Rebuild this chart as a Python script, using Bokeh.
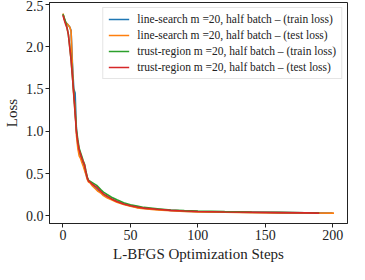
from bokeh.plotting import figure
from bokeh.embed import file_html
from bokeh.resources import INLINE
from bokeh.models import Legend, LegendItem, FixedTicker, Range1d, CustomJSTickFormatter

# --- data ---
ls_train_x = [0, 1, 2, 3, 4, 5, 6, 7, 8, 9, 10, 11, 12, 13, 14, 15, 16, 17, 18, 19, 20, 22, 24, 26, 28, 30, 33, 36, 40, 45, 50, 55, 60, 70, 80, 90, 100, 120, 140, 160, 180, 200]
ls_train_y = [2.38, 2.33, 2.28, 2.27, 2.25, 2.23, 2.19, 1.80, 1.50, 1.45, 1.00, 0.84, 0.74, 0.71, 0.66, 0.61, 0.56, 0.50, 0.44, 0.41, 0.40, 0.37, 0.33, 0.30, 0.28, 0.25, 0.22, 0.20, 0.17, 0.14, 0.12, 0.10, 0.09, 0.075, 0.065, 0.056, 0.05, 0.045, 0.041, 0.038, 0.035, 0.033]

ls_test_x = [0, 1, 2, 3, 4, 5, 6, 7, 8, 9, 10, 11, 12, 13, 14, 15, 16, 17, 18, 19, 20, 22, 24, 26, 28, 30, 33, 36, 40, 45, 50, 55, 60, 70, 80, 90, 100, 120, 140, 160, 180, 201]
ls_test_y = [2.39, 2.33, 2.28, 2.27, 2.25, 2.23, 2.18, 1.75, 1.42, 1.28, 0.95, 0.80, 0.71, 0.68, 0.63, 0.59, 0.54, 0.49, 0.43, 0.40, 0.39, 0.35, 0.32, 0.29, 0.27, 0.24, 0.21, 0.19, 0.16, 0.135, 0.115, 0.095, 0.085, 0.07, 0.06, 0.052, 0.047, 0.042, 0.038, 0.036, 0.034, 0.033]

tr_train_x = [0, 1, 2, 3, 4, 5, 6, 7, 8, 9, 10, 11, 12, 13, 14, 15, 16, 17, 18, 19, 20, 22, 25, 28, 30, 33, 36, 40, 45, 50, 55, 60, 70, 80, 90, 100, 120, 140, 160, 180, 190]
tr_train_y = [2.38, 2.33, 2.29, 2.22, 2.14, 2.00, 1.85, 1.65, 1.45, 1.22, 1.02, 0.90, 0.80, 0.75, 0.70, 0.65, 0.61, 0.53, 0.46, 0.42, 0.41, 0.39, 0.36, 0.31, 0.28, 0.25, 0.22, 0.19, 0.155, 0.13, 0.115, 0.10, 0.085, 0.07, 0.062, 0.056, 0.05, 0.045, 0.041, 0.037, 0.035]

tr_test_x = [0, 1, 2, 3, 4, 5, 6, 7, 8, 9, 10, 11, 12, 13, 14, 15, 16, 17, 18, 19, 20, 22, 25, 28, 30, 33, 36, 40, 45, 50, 55, 60, 70, 80, 90, 100, 120, 140, 160, 180, 190]
tr_test_y = [2.37, 2.31, 2.26, 2.22, 2.14, 1.99, 1.84, 1.64, 1.43, 1.20, 0.99, 0.87, 0.78, 0.73, 0.68, 0.64, 0.60, 0.52, 0.45, 0.41, 0.40, 0.37, 0.34, 0.29, 0.26, 0.23, 0.20, 0.17, 0.14, 0.12, 0.105, 0.092, 0.078, 0.065, 0.057, 0.051, 0.046, 0.042, 0.038, 0.035, 0.033]

labels = [
    "line-search m =20, half batch \u2013 (train loss)",
    "line-search m =20, half batch \u2013 (test loss)",
    "trust-region m =20, half batch \u2013 (train loss)",
    "trust-region m =20, half batch \u2013 (test loss)",
]
colors = ["#1f77b4", "#ff7f0e", "#2ca02c", "#d62728"]
x_ticks = [0, 50, 100, 150, 200]
y_ticks = [0.0, 0.5, 1.0, 1.5, 2.0, 2.5]

FONT = "Liberation Serif"

p = figure(width=349, height=264, output_backend="svg", toolbar_location=None,
           x_range=Range1d(-10, 211), y_range=Range1d(-0.09, 2.52),
           min_border_left=0, min_border_right=2, min_border_top=2, min_border_bottom=0)
p.grid.visible = False
p.outline_line_color = "#222222"
p.outline_line_width = 1
p.background_fill_color = "white"
p.border_fill_color = "white"

series = [(ls_train_x, ls_train_y), (ls_test_x, ls_test_y), (tr_train_x, tr_train_y), (tr_test_x, tr_test_y)]
items = []
for (xs, ys), c, lab in zip(series, colors, labels):
    r = p.line(xs, ys, line_color=c, line_width=1.6)
    items.append(LegendItem(label=lab, renderers=[r]))

for ax, ticks in ((p.xaxis[0], x_ticks), (p.yaxis[0], y_ticks)):
    ax.ticker = FixedTicker(ticks=ticks)
    ax.minor_tick_line_color = None
    ax.major_tick_in = 0
    ax.major_tick_out = 4
    ax.major_label_standoff = 2
    ax.axis_label_standoff = 3
    ax.major_label_text_font = FONT
    ax.major_label_text_font_size = "14px"
    ax.major_label_text_color = "#222222"
    ax.axis_label_text_font = FONT
    ax.axis_label_text_font_size = "15px"
    ax.axis_label_text_font_style = "normal"
    ax.axis_label_text_color = "#222222"
    ax.axis_line_color = "#222222"
    ax.major_tick_line_color = "#222222"

p.yaxis[0].formatter = CustomJSTickFormatter(code="return tick.toFixed(1);")
p.xaxis[0].axis_label = "L-BFGS Optimization Steps"
p.yaxis[0].axis_label = "Loss"

legend = Legend(items=items, location="top_right")
legend.label_text_font = FONT
legend.label_text_font_size = "11.5px"
legend.label_text_color = "#222222"
legend.glyph_width = 21
legend.glyph_height = 12
legend.label_height = 12
legend.label_standoff = 8
legend.spacing = 4
legend.padding = 5
legend.margin = 5
legend.border_line_color = "#cccccc"
legend.border_line_width = 1
legend.background_fill_alpha = 0.8
p.add_layout(legend)

open("out.html", "w").write(file_html(p, INLINE))
